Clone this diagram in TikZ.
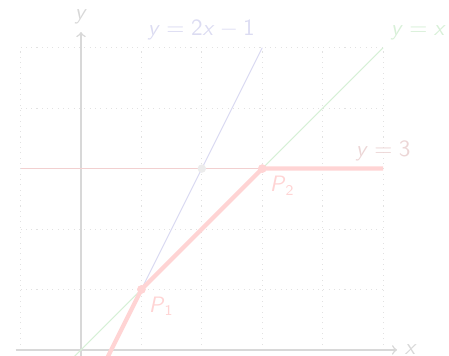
\documentclass[tikz,border=0pt]{standalone}
\usepackage{amsmath,amssymb}
\usepackage{tikz}
\usetikzlibrary{arrows,positioning,calc}
\usepackage{xcolor}
\definecolor{gridgray}{RGB}{226,226,226}
\definecolor{axisgray}{RGB}{216,216,216}
\definecolor{lineblue}{RGB}{218,218,242}
\definecolor{linegreen}{RGB}{214,240,214}
\definecolor{linered}{RGB}{242,208,208}
\definecolor{pathred}{RGB}{255,212,212}
\definecolor{dotgray}{RGB}{236,236,236}
\definecolor{textblue}{RGB}{220,220,242}
\definecolor{textgreen}{RGB}{216,240,216}
\definecolor{textred}{RGB}{236,214,214}
\newcommand{\sv}[1]{\textsf{\textit{#1}}}
\tikzset{
    gridline/.style={gridgray, dotted, line width=0.5pt},
    axis/.style={axisgray, line width=0.7pt, ->},
    lineB/.style={lineblue, line width=0.5pt},
    lineG/.style={linegreen, line width=0.5pt},
    lineR/.style={linered, line width=0.6pt},
    pathR/.style={pathred, line width=2pt, line join=round},
    pointR/.style={circle, fill=pathred, inner sep=0pt, minimum size=0.14cm},
    pointG/.style={circle, fill=dotgray, inner sep=0pt, minimum size=0.14cm},
    every node/.style={font=\sffamily\fontsize{10.5}{12}\selectfont},
}
\begin{document}
\begin{tikzpicture}[x=1cm,y=1cm]
    \useasboundingbox (-1.34,-0.09) rectangle (6.09,5.79);
    \draw[gridline] (-1,0) grid (5,5);
    % axes
    \coordinate (xstart) at (-1.08,0);
    \coordinate (xend) at (5.23,0);
    \coordinate (ystart) at (0,-0.3);
    \coordinate (yend) at (0,5.26);
    \draw[axis] (xstart) -- (xend) node[right, text=axisgray] {\sv{x}};
    \draw[axis] (ystart) -- (yend) node[above, text=axisgray] {\sv{y}};
    % the three lines
    \coordinate (G0) at (-0.3,-0.3);
    \coordinate (G1) at (5,5);
    \coordinate (B0) at (0.5,0);
    \coordinate (B1) at (3,5);
    \coordinate (R0) at (-1,3);
    \coordinate (R1) at (5,3);
    \draw[lineG] (G0) -- (G1) node[above right, text=textgreen] {$\sv{y} = \sv{x}$};
    \draw[lineB] (B0) -- (B1) node[above left, text=textblue] {$\sv{y} = \mathsf{2}\sv{x} - \mathsf{1}$};
    \draw[lineR] (R0) -- (R1) node[above left, xshift=0.58cm, text=textred] {$\sv{y} = \mathsf{3}$};
    % points
    \node[pointR] (P1) at (1,1) {};
    \node[pointR] (P2) at (3,3) {};
    \node[pointG] (Q) at (2,3) {};
    \coordinate (S) at (0.4,-0.2);
    \draw[pathR] (S) -- (P1.center) -- (P2.center) -- (R1);
    \node[pointR] at (P1) {};
    \node[pointR] at (P2) {};
    \node[below right, text=pathred] at (P1) {$\sv{P}_{\mathsf{1}}$};
    \node[below right, text=pathred] at (P2) {$\sv{P}_{\mathsf{2}}$};
\end{tikzpicture}
\end{document}
